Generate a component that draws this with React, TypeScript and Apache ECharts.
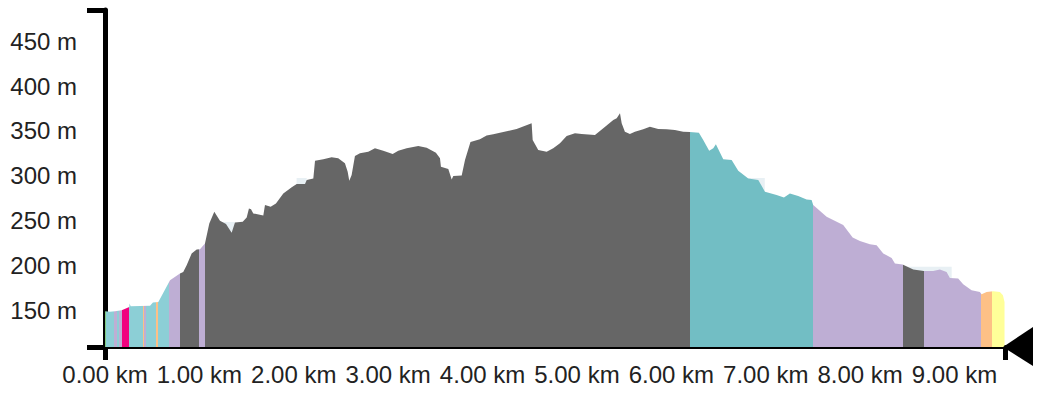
import React, { useEffect, useRef } from "react";
import * as echarts from "echarts";

// Distance along route (km)
const distKm = [
  0, 0.053, 0.106, 0.177, 0.257, 0.26, 0.272, 0.477, 0.508, 0.565, 0.689, 0.794, 0.829, 0.865,
  0.918, 0.971, 1.006, 1.059, 1.105, 1.158, 1.218, 1.282, 1.342, 1.377, 1.459, 1.501, 1.525,
  1.547, 1.571, 1.677, 1.695, 1.755, 1.811, 1.889, 1.978, 2.031, 2.119, 2.137, 2.207, 2.225,
  2.313, 2.401, 2.471, 2.542, 2.571, 2.588, 2.613, 2.648, 2.701, 2.789, 2.86, 2.948, 3.048,
  3.107, 3.196, 3.319, 3.408, 3.506, 3.549, 3.559, 3.637, 3.673, 3.69, 3.779, 3.814, 3.872,
  3.972, 4.043, 4.113, 4.184, 4.361, 4.52, 4.531, 4.59, 4.679, 4.749, 4.82, 4.891, 4.979,
  5.05, 5.191, 5.279, 5.385, 5.421, 5.456, 5.474, 5.508, 5.561, 5.614, 5.702, 5.773, 5.861,
  5.95, 6.038, 6.126, 6.197, 6.292, 6.338, 6.401, 6.444, 6.472, 6.55, 6.639, 6.709, 6.815,
  6.921, 6.992, 7.115, 7.193, 7.256, 7.344, 7.433, 7.486, 7.503, 7.645, 7.821, 7.921, 7.998,
  8.104, 8.175, 8.245, 8.334, 8.369, 8.45, 8.563, 8.676, 8.774, 8.845, 8.916, 8.951, 9.039,
  9.092, 9.181, 9.269, 9.287, 9.34, 9.41, 9.481, 9.513, 9.53,
];

// Elevation (m)
const elevM = [
  148.9, 148.3, 148.9, 150.0, 153.7, 157.5, 154.5, 155.0, 158.6, 159.3, 183.5, 191.0, 192.8,
  200.3, 213.3, 217.8, 218.2, 224.5, 246.9, 259.8, 249.8, 246.1, 236.4, 248.0, 248.7, 253.6,
  263.6, 262.8, 258.0, 255.8, 267.3, 265.4, 269.2, 280.4, 287.1, 290.8, 290.8, 295.3, 297.1,
  316.8, 318.4, 320.6, 319.5, 313.9, 304.5, 294.5, 300.8, 322.1, 325.1, 326.9, 330.7, 328.0,
  324.3, 328.0, 330.7, 333.2, 331.3, 325.7, 319.5, 310.1, 307.5, 296.0, 299.7, 300.3, 317.6,
  337.7, 340.7, 345.0, 346.3, 348.1, 352.2, 358.6, 339.9, 328.8, 326.9, 330.7, 336.3, 344.4,
  347.4, 346.7, 345.5, 353.0, 362.3, 364.2, 369.8, 358.6, 349.2, 346.6, 349.2, 351.9, 354.8,
  352.2, 351.9, 351.1, 349.2, 348.9, 348.1, 339.9, 328.0, 330.7, 335.1, 318.4, 317.6, 305.6,
  297.1, 295.2, 282.2, 278.5, 275.9, 280.4, 277.4, 273.7, 272.9, 267.3, 254.2, 245.0, 231.2,
  227.4, 223.7, 222.6, 213.4, 208.4, 202.2, 201.1, 195.5, 193.9, 193.9, 195.5, 192.8, 186.1,
  185.4, 179.0, 172.3, 170.4, 167.9, 170.4, 171.2, 170.4, 166.8, 159.3,
];

// Faint background profile patches (null = gap)
const bgKm = [1.218, 1.377, 1.38, 2.03, 2.137, 2.14, 6.81, 6.99, 6.995, 8.45, 8.97, 8.975];
const bgM = [248.5, 248.5, null, 297.5, 297.5, null, 297.5, 297.5, null, 198.5, 198.5, null];

// Surface segments: [start km, end km, colour]
const segStart = [
  0, 0.015, 0.1, 0.13, 0.15, 0.178, 0.258, 0.4, 0.418, 0.435, 0.54, 0.565, 0.68, 0.795, 1.0,
  1.06, 6.2, 7.5, 8.452, 8.676, 9.28, 9.4,
];
const segEnd = [
  0.015, 0.1, 0.13, 0.15, 0.178, 0.258, 0.4, 0.418, 0.435, 0.54, 0.565, 0.68, 0.795, 1.0, 1.06,
  6.2, 7.5, 8.452, 8.676, 9.28, 9.4, 9.6,
];
const segColor = [
  "#7fc97f", "#8ccfd6", "#beaed4", "#8ccfd6", "#beaed4", "#f0027f", "#8ccfd6", "#fdc086",
  "#beaed4", "#8ccfd6", "#fdc086", "#8ccfd6", "#beaed4", "#666666", "#beaed4", "#666666",
  "#72bec4", "#beaed4", "#666666", "#beaed4", "#fdc086", "#ffff99",
];

const xTickLabels = [0, 1, 2, 3, 4, 5, 6, 7, 8, 9];
const yTickLabels = [150, 200, 250, 300, 350, 400, 450];

const X_MAX = 9.535;
const Y_MIN = 109;
const Y_MAX = 485;

export default function App() {
  const ref = useRef<HTMLDivElement>(null);

  useEffect(() => {
    if (!ref.current) return;
    const chart = echarts.init(ref.current, null, { renderer: "svg" });
    const font = "'Liberation Sans', Arial, sans-serif";
    const data = distKm.map((d, i) => [d, elevM[i]]);
    const bgData = bgKm.map((d, i) => (bgM[i] === null ? [d, null] : [d, bgM[i]]));
    const pieces = segStart.map((s, i) => ({ gte: s, lt: segEnd[i], color: segColor[i] }));

    chart.setOption({
      animation: false,
      grid: { left: 105, right: 41, top: 10, bottom: 53, containLabel: false },
      visualMap: {
        show: false,
        type: "piecewise",
        dimension: 0,
        seriesIndex: 1,
        pieces,
      },
      xAxis: {
        type: "value",
        min: 0,
        max: X_MAX,
        axisLine: { show: true, onZero: false, lineStyle: { color: "#000", width: 4 } },
        axisTick: {
          show: true,
          customValues: [0, X_MAX],
          length: 13,
          lineStyle: { color: "#000", width: 5 },
        },
        axisLabel: {
          customValues: xTickLabels,
          formatter: (v: number) => `${v.toFixed(2)} km`,
          fontSize: 24,
          fontFamily: font,
          color: "#222",
          margin: 15,
        },
        splitLine: { show: false },
      },
      yAxis: {
        type: "value",
        min: Y_MIN,
        max: Y_MAX,
        offset: 4,
        axisLine: { show: true, lineStyle: { color: "#000", width: 5 } },
        axisTick: {
          show: true,
          customValues: [Y_MIN, Y_MAX],
          length: 18,
          lineStyle: { color: "#000", width: 5 },
        },
        axisLabel: {
          customValues: yTickLabels,
          formatter: (v: number) => `${v} m`,
          fontSize: 24,
          fontFamily: font,
          color: "#222",
          margin: 24,
        },
        splitLine: { show: false },
      },
      series: [
        {
          type: "line",
          data: bgData,
          showSymbol: false,
          symbol: "none",
          connectNulls: false,
          lineStyle: { width: 0 },
          itemStyle: { color: "#e8f0f4" },
          areaStyle: { opacity: 1, color: "#e8f0f4" },
          z: 0,
        },
        {
          type: "line",
          data,
          showSymbol: false,
          symbol: "none",
          lineStyle: { width: 0 },
          areaStyle: { opacity: 1 },
          z: 1,
        },
      ],
      graphic: [
        {
          type: "polygon",
          shape: { points: [[1003, 347], [1033, 327], [1033, 366]] },
          style: { fill: "#000" },
          z: 100,
        },
      ],
    });

    return () => chart.dispose();
  }, []);

  return (
    <div
      ref={ref}
      style={{ position: "fixed", left: 0, top: 0, width: 1046, height: 400, background: "#fff" }}
    />
  );
}
